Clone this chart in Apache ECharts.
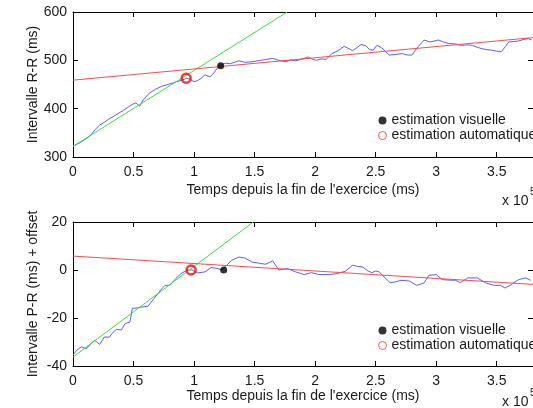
<!DOCTYPE html>
<html>
<head>
<meta charset="utf-8">
<script src="https://cdn.jsdelivr.net/npm/echarts@6/dist/echarts.min.js"></script>
<style>
  html, body { margin: 0; padding: 0; background: #fff; }
  #chart { width: 533px; height: 408px; }
</style>
</head>
<body>
<div id="chart"></div>
<script>
// time in units of 1e5 ms
const rrTime = [0.00, 0.03, 0.06, 0.09, 0.12, 0.15, 0.18, 0.22, 0.26, 0.30, 0.34, 0.38, 0.42, 0.46, 0.50, 0.52, 0.55, 0.58,
  0.63, 0.68, 0.73, 0.77, 0.81, 0.86, 0.90, 0.94, 0.97, 1.00, 1.03, 1.06, 1.09, 1.10, 1.13, 1.15, 1.17, 1.21, 1.26, 1.30,
  1.37, 1.42, 1.48, 1.55, 1.60, 1.65, 1.70, 1.76, 1.80, 1.84, 1.90, 1.94, 1.98, 2.01, 2.05, 2.09, 2.14, 2.19, 2.24, 2.28,
  2.31, 2.35, 2.38, 2.42, 2.45, 2.48, 2.51, 2.55, 2.61, 2.66, 2.72, 2.76, 2.80, 2.85, 2.90, 2.95, 3.00, 3.02, 3.06, 3.10,
  3.15, 3.21, 3.26, 3.30, 3.34, 3.38, 3.42, 3.46, 3.50, 3.54, 3.57, 3.60, 3.64, 3.68, 3.72, 3.76, 3.79];
const rrValue = [322, 326, 330, 335, 340, 346, 356, 366, 372, 379, 385, 391, 397, 404, 410, 412, 405, 418,
  432, 440, 446, 449, 452, 456, 459, 463, 460, 456, 458, 463, 470, 474, 466, 470, 476, 490, 494, 493,
  499, 496, 497, 500, 502, 504, 500, 497, 501, 499, 503, 507, 502, 500, 503, 502, 514, 520, 529, 524,
  520, 527, 533, 530, 522, 521, 531, 526, 511, 512, 514, 511, 511, 528, 542, 538, 541, 542, 538, 535,
  534, 531, 532, 531, 527, 524, 522, 521, 519, 518, 528, 538, 539, 540, 543, 545, 542];

const prTime = [0.00, 0.03, 0.07, 0.11, 0.15, 0.18, 0.22, 0.26, 0.30, 0.33, 0.36, 0.40, 0.43, 0.47, 0.49, 0.53, 0.56, 0.62,
  0.67, 0.73, 0.76, 0.80, 0.85, 0.90, 0.95, 0.98, 1.03, 1.09, 1.14, 1.19, 1.23, 1.27, 1.31, 1.37, 1.42, 1.48, 1.54, 1.59,
  1.65, 1.70, 1.77, 1.84, 1.91, 1.97, 2.03, 2.12, 2.18, 2.25, 2.31, 2.35, 2.39, 2.44, 2.47, 2.50, 2.53, 2.57, 2.62, 2.66,
  2.71, 2.78, 2.84, 2.90, 2.94, 3.00, 3.05, 3.10, 3.16, 3.20, 3.26, 3.34, 3.41, 3.48, 3.53, 3.57, 3.61, 3.68, 3.74, 3.78];
const prValue = [-35.5, -33.5, -32, -32.8, -30.5, -29.3, -31, -27.9, -28, -26, -24.7, -25, -22.3, -21.7, -16, -15.8, -15.5, -15.1,
  -11.8, -8, -6.4, -6.4, -3.5, -1.2, 0, 0, -1.2, -0.8, 1, 0.7, 0, 2, 4, 5.4, 5, 3.3, 2.8, 2.4,
  3.8, 0, 0.6, -0.8, -1.9, -1.1, -1.9, -1.9, -1.5, -0.5, 2, 1.5, 1.3, -0.5, -1.1, -0.4, -0.8, -2.9, -5.3, -5,
  -4.3, -4.6, -6.4, -5.4, -2.2, -1.9, -4, -4.2, -4.3, -5.3, -3.3, -3.3, -5.4, -6.4, -6.4, -7.5, -6.4, -4, -3.3, -4.3];

// fitted lines: [x0, y0, x1, y1]
const rrFitFast = [0, 322, 1.77, 600];
const rrFitSlow = [0, 459, 3.8, 547];
const prFitFast = [0, -36.3, 1.49, 20];
const prFitSlow = [0, 5.8, 3.8, -6];

// breakpoints [time, value]
const rrVisual = [1.22, 489];
const rrAuto = [0.935, 463];
const prVisual = [1.245, 0];
const prAuto = [0.976, 0];

const xTicks = { min: 0, max: 3.8, interval: 0.5 };
const rrTicks = { min: 300, max: 600, interval: 100 };
const prTicks = { min: -40, max: 20, interval: 20 };

const FONT = "'Liberation Sans', Arial, sans-serif";
const TXT = '#1a1a1a';

const zip = (xs, ys) => xs.map((x, i) => [x, ys[i]]);
const seg = s => [[s[0], s[1]], [s[2], s[3]]];

function xAxis(grid, pos, withLabels, nameGap) {
  return {
    type: 'value', gridIndex: grid, position: pos, ...xTicks,
    axisLine: { show: true, onZero: false, lineStyle: { color: '#000', width: 1 } },
    axisTick: { show: true, inside: true, length: 5, lineStyle: { color: '#000' } },
    axisLabel: { show: withLabels, showMaxLabel: false, margin: 8, color: TXT, fontSize: 14, fontFamily: FONT },
    splitLine: { show: false },
    name: withLabels ? "Temps depuis la fin de l'exercice (ms)" : '',
    nameLocation: 'middle', nameGap: nameGap,
    nameTextStyle: { color: TXT, fontSize: 14, fontFamily: FONT }
  };
}

function yAxis(grid, pos, ticks, name) {
  return {
    type: 'value', gridIndex: grid, position: pos, ...ticks,
    axisLine: { show: true, onZero: false, lineStyle: { color: '#000', width: 1 } },
    axisTick: { show: true, inside: true, length: 5, lineStyle: { color: '#000' } },
    axisLabel: { show: !!name, margin: 6, color: TXT, fontSize: 14, fontFamily: FONT },
    splitLine: { show: false },
    name: name || '', nameLocation: 'middle', nameGap: 33, nameMoveOverlap: false,
    nameTextStyle: { color: TXT, fontSize: 14, fontFamily: FONT }
  };
}

function line(name, x, y, data, color) {
  return {
    name: name, type: 'line', xAxisIndex: x, yAxisIndex: y, data: data,
    showSymbol: false, silent: true, clip: true,
    lineStyle: { color: color, width: 1 }
  };
}

function marks(x, y, vis, auto) {
  return [
    {
      name: 'estimation visuelle', type: 'scatter', xAxisIndex: x, yAxisIndex: y,
      data: [vis], symbol: 'circle', symbolSize: 7, z: 5,
      itemStyle: { color: '#000' }
    },
    {
      name: 'estimation automatique', type: 'scatter', xAxisIndex: x, yAxisIndex: y,
      data: [auto], symbol: 'circle', symbolSize: 9, z: 5,
      itemStyle: { color: 'rgba(255,255,255,0)', borderColor: '#ff0000', borderWidth: 2.5 }
    }
  ];
}

function legend(top) {
  return {
    orient: 'vertical', left: 373, top: top, itemGap: 0,
    itemWidth: 8, itemHeight: 8, selectedMode: false,
    textStyle: { color: TXT, fontSize: 14, fontFamily: FONT, lineHeight: 15 },
    data: [
      { name: 'estimation visuelle', icon: 'circle', itemStyle: { color: '#000', borderWidth: 0 } },
      { name: 'estimation automatique', icon: 'circle',
        itemStyle: { color: '#fff', borderColor: '#ff3030', borderWidth: 1 } }
    ]
  };
}

const chart = echarts.init(document.getElementById('chart'), null, { renderer: 'canvas' });

chart.setOption({
  animation: false,
  backgroundColor: '#fff',
  grid: [
    { left: 73, top: 12, width: 461, height: 145 },
    { left: 73, top: 222, width: 461, height: 144 }
  ],
  xAxis: [
    xAxis(0, 'bottom', true, 26),
    xAxis(0, 'top', false, 0),
    xAxis(1, 'bottom', true, 22),
    xAxis(1, 'top', false, 0)
  ],
  yAxis: [
    yAxis(0, 'left', rrTicks, 'Intervalle R-R (ms)'),
    yAxis(0, 'right', rrTicks, null),
    yAxis(1, 'left', prTicks, 'Intervalle P-R (ms) + offset'),
    yAxis(1, 'right', prTicks, null)
  ],
  legend: [legend(108), legend(318)],
  graphic: [
    { type: 'text', left: 502, top: 194, style: { text: 'x 10', fill: TXT, font: '14px ' + FONT } },
    { type: 'text', left: 530, top: 187, style: { text: '5', fill: TXT, font: '10px ' + FONT } },
    { type: 'text', left: 502, top: 395, style: { text: 'x 10', fill: TXT, font: '14px ' + FONT } },
    { type: 'text', left: 530, top: 388, style: { text: '5', fill: TXT, font: '10px ' + FONT } }
  ],
  series: [
    line('rr', 0, 0, zip(rrTime, rrValue), '#5c5cff'),
    line('rrFast', 0, 0, seg(rrFitFast), '#3fdc3f'),
    line('rrSlow', 0, 0, seg(rrFitSlow), '#ff4a4a'),
    ...marks(0, 0, rrVisual, rrAuto),
    line('pr', 2, 2, zip(prTime, prValue), '#5c5cff'),
    line('prFast', 2, 2, seg(prFitFast), '#3fdc3f'),
    line('prSlow', 2, 2, seg(prFitSlow), '#ff4a4a'),
    ...marks(2, 2, prVisual, prAuto)
  ]
});
</script>
</body>
</html>
